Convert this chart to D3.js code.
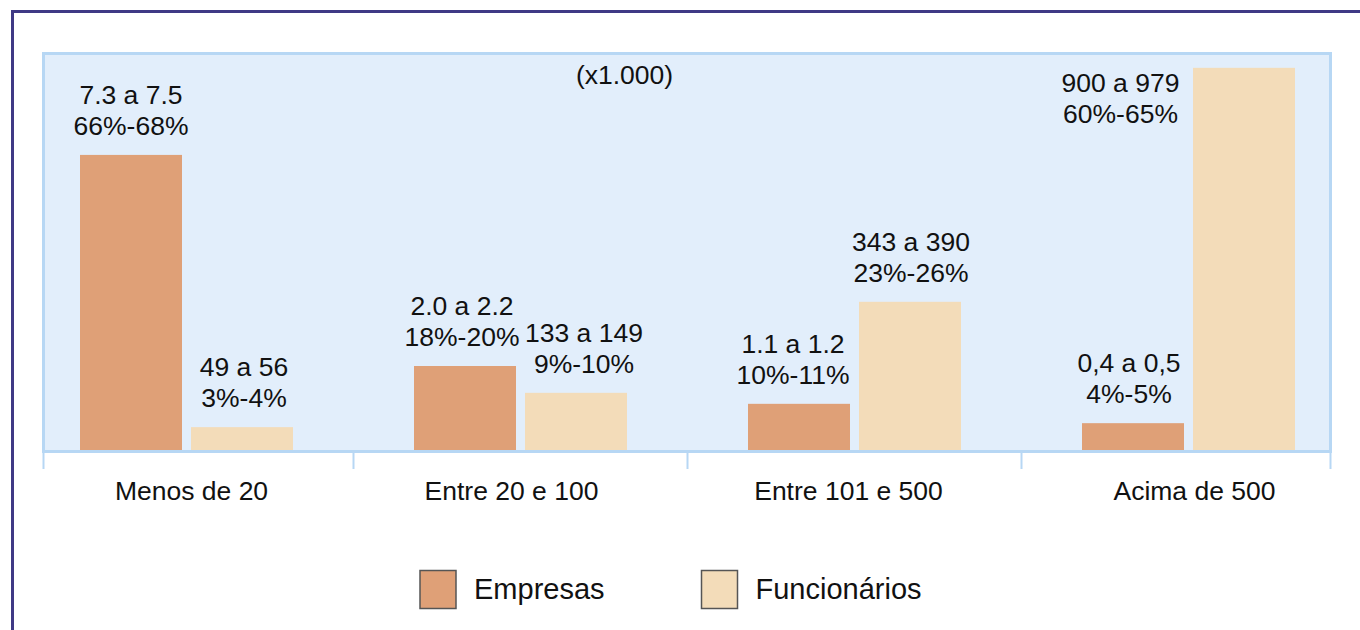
<!DOCTYPE html>
<html>
<head>
<meta charset="utf-8">
<script src="https://cdn.jsdelivr.net/npm/d3@7"></script>
<style>
  html, body { margin: 0; padding: 0; background: #ffffff; }
  svg { display: block; font-family: "Liberation Sans", Arial, sans-serif; }
</style>
</head>
<body>
<svg id="chart" width="1360" height="630"></svg>
<script>
// ---- data ----
const categories = ["Menos de 20", "Entre 20 e 100", "Entre 101 e 500", "Acima de 500"];
const seriesNames = ["Empresas", "Funcionários"];
// relative bar heights
const empresasValues = [67.1, 19.1, 10.5, 6.1];
const funcionariosValues = [5.2, 13.0, 33.7, 86.9];
const empresasRange = ["7.3 a 7.5", "2.0 a 2.2", "1.1 a 1.2", "0,4 a 0,5"];
const empresasPct = ["66%-68%", "18%-20%", "10%-11%", "4%-5%"];
const funcionariosRange = ["49 a 56", "133 a 149", "343 a 390", "900 a 979"];
const funcionariosPct = ["3%-4%", "9%-10%", "23%-26%", "60%-65%"];
const unitNote = "(x1.000)";

// ---- layout / style ----
const colors = { "Empresas": "#dfa077", "Funcionários": "#f3dcb9" };
const plot = { left: 43.5, right: 1330.5, top: 53.5, bottom: 451.5 };
const labelShift = { "Empresas": [0, -3, -6, -4], "Funcionários": [2, 8, 1, 0] };
const catShift = [5, -9, -6, 6];
const fs = 26.5;

const svg = d3.select("#chart");

// outer frame
svg.append("rect")
  .attr("x", 12.5).attr("y", 11.5)
  .attr("width", 1400).attr("height", 700)
  .attr("fill", "#ffffff")
  .attr("stroke", "#3f3985").attr("stroke-width", 3);

// plot background
svg.append("rect")
  .attr("x", plot.left).attr("y", plot.top)
  .attr("width", plot.right - plot.left).attr("height", plot.bottom - plot.top)
  .attr("fill", "#e2eefb")
  .attr("stroke", "#b7d7f4").attr("stroke-width", 3);

const x0 = d3.scaleBand().domain(categories).range([19.5, 1355.5]).paddingInner(0).paddingOuter(0);
const x1 = d3.scaleBand().domain(seriesNames).range([60.5, 273.5]).paddingInner(9 / 111).paddingOuter(0);
const y = d3.scaleLinear().domain([0, 90.5]).range([450, 52]);

const rows = categories.map((c, i) => ({
  cat: c, i,
  bars: [
    { s: "Empresas", v: empresasValues[i], r: empresasRange[i], p: empresasPct[i] },
    { s: "Funcionários", v: funcionariosValues[i], r: funcionariosRange[i], p: funcionariosPct[i] }
  ]
}));

// axis
const axisG = svg.append("g");
axisG.append("line")
  .attr("x1", plot.left).attr("x2", plot.right)
  .attr("y1", 451.5).attr("y2", 451.5)
  .attr("stroke", "#b7d7f4").attr("stroke-width", 3);
const tickXs = [plot.left].concat(categories.slice(1).map(c => x0(c))).concat([plot.right]);
axisG.selectAll("line.tick").data(tickXs).join("line")
  .attr("class", "tick")
  .attr("x1", d => d).attr("x2", d => d)
  .attr("y1", 452).attr("y2", 469)
  .attr("stroke", "#b7d7f4").attr("stroke-width", 2);

axisG.selectAll("text.cat").data(categories).join("text")
  .attr("class", "cat")
  .attr("x", (d, i) => x0(d) + x0.bandwidth() / 2 + catShift[i])
  .attr("y", 500)
  .attr("text-anchor", "middle")
  .attr("font-size", fs)
  .attr("fill", "#111")
  .text(d => d);

// bars
const groups = svg.selectAll("g.grp").data(rows).join("g")
  .attr("class", "grp")
  .attr("transform", d => `translate(${x0(d.cat)},0)`);

groups.selectAll("rect").data(d => d.bars).join("rect")
  .attr("x", d => x1(d.s))
  .attr("y", d => y(d.v))
  .attr("width", x1.bandwidth())
  .attr("height", d => y(0) - y(d.v))
  .attr("fill", d => colors[d.s]);

// labels
groups.each(function (g) {
  const sel = d3.select(this);
  g.bars.forEach(b => {
    const top = y(b.v);
    let cx = x1(b.s) + x1.bandwidth() / 2 + labelShift[b.s][g.i];
    let y1 = top - 51, y2 = top - 20;
    if (y1 - 20 < plot.top) {
      // not enough room above: place to the left of the bar
      cx = x1(b.s) - 72.5;
      y1 = top + 24; y2 = top + 55;
    }
    sel.append("text").attr("x", cx).attr("y", y1)
      .attr("text-anchor", "middle").attr("font-size", fs).attr("fill", "#111").text(b.r);
    sel.append("text").attr("x", cx).attr("y", y2)
      .attr("text-anchor", "middle").attr("font-size", fs).attr("fill", "#111").text(b.p);
  });
});

// unit note
svg.append("text")
  .attr("x", 624.5).attr("y", 84)
  .attr("text-anchor", "middle").attr("font-size", fs).attr("fill", "#111")
  .text(unitNote);

// legend
const legendX = [420, 701.5];
const leg = svg.selectAll("g.leg").data(seriesNames).join("g")
  .attr("class", "leg")
  .attr("transform", (d, i) => `translate(${legendX[i]},570.5)`);
leg.append("rect")
  .attr("width", 36).attr("height", 38)
  .attr("fill", d => colors[d])
  .attr("stroke", "#555").attr("stroke-width", 1.5);
leg.append("text")
  .attr("x", 54).attr("y", 28.5)
  .attr("font-size", 29).attr("fill", "#111")
  .text(d => d);
</script>
</body>
</html>
